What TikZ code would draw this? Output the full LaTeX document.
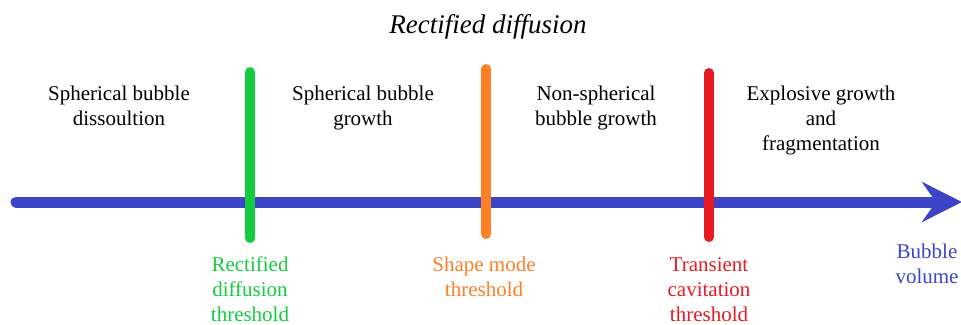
\documentclass[tikz,border=0pt]{standalone}
\usepackage{fontspec}
\setmainfont{Liberation Serif}
\usetikzlibrary{arrows.meta}
\definecolor{axisblue}{RGB}{62,68,200}
\definecolor{thgreen}{RGB}{20,204,64}
\definecolor{thorange}{RGB}{255,127,39}
\definecolor{thred}{RGB}{232,26,36}
\tikzset{
  lbl/.style={align=center,inner sep=0pt,anchor=base,font=\fontsize{21}{25}\selectfont},
  bar/.style={line width=10pt,line cap=round},
}
\begin{document}
\begin{tikzpicture}[x=1pt,y=-1pt]
\useasboundingbox (0,0) rectangle (961,324);
% title
\node[lbl,font=\fontsize{27}{32}\selectfont\itshape] (title) at (488,33) {Rectified diffusion};
% axis
\coordinate (a0) at (16,202);
\coordinate (a1) at (962,202);
\draw[axisblue,line width=11pt,line cap=round,-{Stealth[length=40pt,width=40pt,inset=14pt]}] (a0) -- (a1);
% bars
\coordinate (g0) at (250,72); \coordinate (g1) at (250,238);
\coordinate (o0) at (486,69); \coordinate (o1) at (486,234);
\coordinate (r0) at (709,73); \coordinate (r1) at (709,237);
\draw[bar,thgreen] (g0) -- (g1);
\draw[bar,thorange] (o0) -- (o1);
\draw[bar,thred] (r0) -- (r1);
% region labels (anchor = baseline of last line)
\node[lbl] (p1) at (119,125) {Spherical bubble\\dissoultion};
\node[lbl] (p2) at (363,125) {Spherical bubble\\growth};
\node[lbl] (p3) at (596,125) {Non-spherical\\bubble growth};
\node[lbl] (p4) at (821,150) {Explosive growth\\and\\fragmentation};
% threshold labels
\node[lbl,text=thgreen] (t1) at (250,321) {Rectified\\diffusion\\threshold};
\node[lbl,text=thorange] (t2) at (484,296) {Shape mode\\threshold};
\node[lbl,text=thred] (t3) at (709,321) {Transient\\cavitation\\threshold};
\node[lbl,text=axisblue] (t4) at (927,283) {Bubble\\volume};
\end{tikzpicture}
\end{document}
